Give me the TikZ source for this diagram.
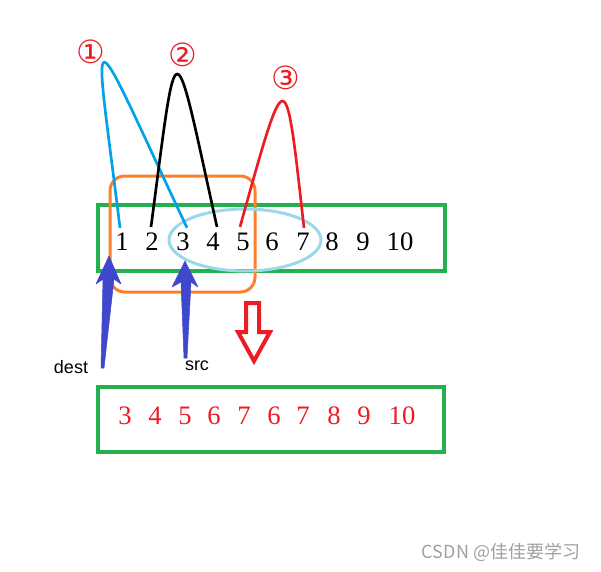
\documentclass[tikz,border=0pt]{standalone}
\usepackage{fontspec}
\newfontfamily\symfont{DejaVu Sans}
\newfontfamily\labfont{Liberation Sans}
\newfontfamily\digfont{Liberation Serif}
\newfontfamily\cjkfont{Noto Sans CJK SC}
\usetikzlibrary{calc}
\definecolor{pgreen}{HTML}{22B14C}
\definecolor{porange}{HTML}{FF7F27}
\definecolor{plblue}{HTML}{99D9EA}
\definecolor{pblue}{HTML}{00A2E8}
\definecolor{pred}{HTML}{ED1C24}
\definecolor{pindigo}{HTML}{3F48CC}
\definecolor{wgray}{HTML}{A0A0A0}
\begin{document}
\begin{tikzpicture}[x=0.75pt,y=-0.75pt,
  greenbox/.style={draw=pgreen,line width=3pt},
  digit/.style={inner sep=0pt,font=\digfont\fontsize{20}{24}\selectfont},
  rdigit/.style={digit,text=pred},
  circnum/.style={inner sep=0pt,text=pred,font=\symfont\fontsize{24}{28}\selectfont},
  curve/.style={line width=2pt},
  bluearrow/.style={fill=pindigo,draw=pindigo,line width=0.4pt,line join=round},
  lab/.style={inner sep=0pt,font=\labfont\fontsize{13.5}{16}\selectfont}]
\useasboundingbox (0,0) rectangle (601,572);
% boxes
\draw[greenbox] (98,205) rectangle (445,271);
\draw[greenbox] (98,387) rectangle (444,452);
\draw[draw=porange,line width=2.25pt,rounded corners=11pt] (110,176) rectangle (255,292);
\draw[draw=plblue,line width=2.25pt] (245,240) ellipse [x radius=57pt, y radius=23.25pt];
% top digits
\foreach \n/\x in {1/122,2/152,3/183,4/213,5/243,6/272,7/303,8/332,9/363,10/400}
  \node[digit] (t\n) at (\x,242) {\n};
% bottom digits
\foreach \i/\n/\x in {1/3/125,2/4/155,3/5/185,4/6/214,5/7/244,6/6/274,7/7/303,8/8/334,9/9/364,10/10/402}
  \node[rdigit] (b\i) at (\x,416) {\n};
% circled numbers
\node[circnum] (c1) at (91,52) {①};
\node[circnum] (c2) at (183,55) {②};
\node[circnum] (c3) at (286,78) {③};
% curves
\draw[curve,pblue] ($(t1.north)+(-2,-5)$) .. controls (93,7) and (83,7) .. ($(t3.north)+(4,-5)$);
\draw[curve,black] ($(t2.north)+(-1,-6)$) .. controls (178,23) and (172,23) .. ($(t4.north)+(4,-6)$);
\draw[curve,pred] ($(t5.north)+(-3,-6)$) .. controls (287,59) and (285,59) .. ($(t7.north)+(1,-5)$);
% blue arrows
\node[lab] (dest) at (71,367) {dest};
\node[lab] (src) at (197,366) {src};
\coordinate (dtip) at (109,256);
\coordinate (stip) at (185,261);
\draw[bluearrow] (dtip) -- (121,284) -- (114,279) -- (104,368) -- (101,368) -- (103,279) -- (96,284) -- cycle;
\draw[bluearrow] (stip) -- (198,287) -- (191,282) -- (187,358) -- (184,358) -- (181,282) -- (172,287) -- cycle;
% red hollow arrow
\draw[draw=pred,line width=3pt,fill=white] (246,303) -- (259,303) -- (259,332) -- (270,332) -- (254,361) -- (238,332) -- (246,332) -- cycle;
% watermark
\node[inner sep=0pt,text=wgray,font=\cjkfont\fontsize{13.5}{16}\selectfont] (wm) at (501,552) {CSDN @佳佳要学习};
\end{tikzpicture}
\end{document}
